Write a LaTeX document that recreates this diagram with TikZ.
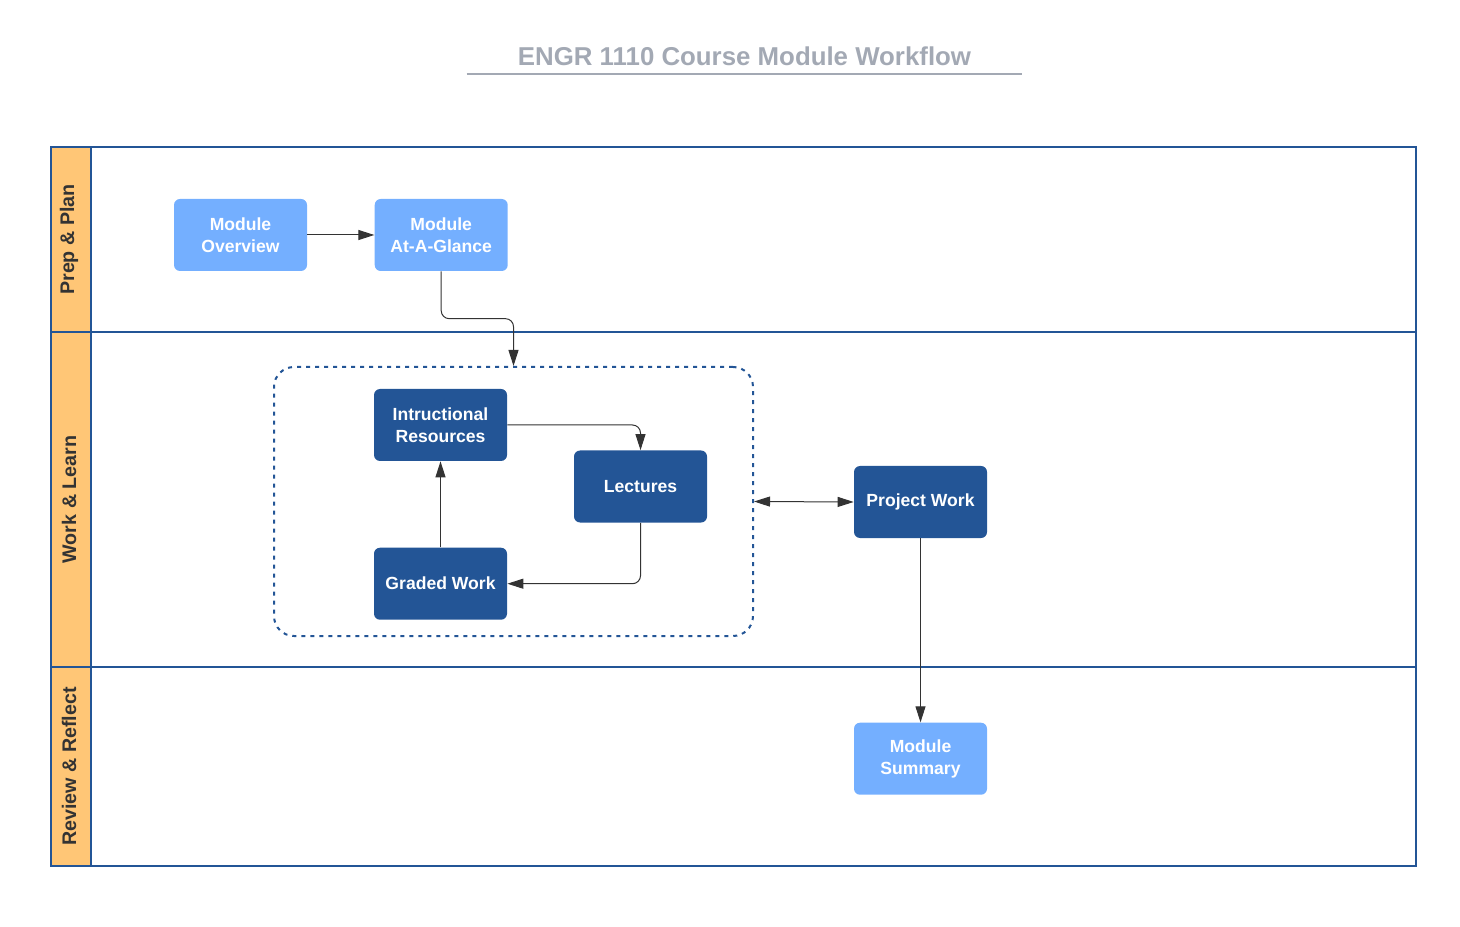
\documentclass[tikz,border=0pt]{standalone}
\usepackage{fontspec}
\setmainfont{Liberation Sans}
\usepackage{xcolor}
\usetikzlibrary{arrows.meta,positioning,calc}
\definecolor{lightbox}{RGB}{116,175,255}
\definecolor{darkbox}{RGB}{35,85,150}
\definecolor{lanehead}{RGB}{255,198,118}
\definecolor{titlegray}{RGB}{163,169,180}
\definecolor{edgegray}{RGB}{51,51,51}

\begin{document}
\begin{tikzpicture}[x=0.2mm,y=-0.2mm,
	>={Triangle[length=3.2mm,width=2mm]},
	box/.style={rectangle,rounded corners=1.2mm,minimum width=26.6mm,minimum height=14.4mm,inner sep=0pt,align=center,text=white,font=\fontsize{10}{12.5}\selectfont\bfseries},
	light/.style={box,fill=lightbox},
	dark/.style={box,fill=darkbox},
	flow/.style={draw=edgegray,line width=0.2mm,rounded corners=1.6mm},
	lane/.style={draw=darkbox,line width=0.4mm},
	lanelabel/.style={rotate=90,inner sep=0pt,text=edgegray,font=\fontsize{11.2}{13}\selectfont\bfseries},
	group/.style={draw=darkbox,line width=0.4mm,dash pattern=on 0.8mm off 1mm,rounded corners=4mm,minimum width=95.8mm,minimum height=53.8mm}]

	\useasboundingbox (0,0) rectangle (1460,927);

	\node[inner sep=0pt,minimum width=111mm,text=titlegray,font=\fontsize{14.7}{17}\selectfont\bfseries] (title) at (744.5,56) {ENGR 1110 Course Module Workflow};
	\draw[titlegray,line width=0.4mm] ([yshift=-1.6mm]title.south west) -- ([yshift=-1.6mm]title.south east);

	\fill[lanehead] (51,147) rectangle (91,866);
	\draw[lane] (51,147) rectangle (1416,866);
	\draw[lane] (91,147) -- (91,866);
	\draw[lane] (51,332) -- (1416,332);
	\draw[lane] (51,667) -- (1416,667);
	\node[lanelabel] (prep) at (69,239.5) {Prep \& Plan};
	\node[lanelabel] (work) at (69,499.5) {Work \& Learn};
	\node[lanelabel] (review) at (69,766.5) {Review \& Reflect};

	\node[light] (overview) at (240.5,235) {Module\\Overview};
	\node[light] (glance) [right=13.4mm of overview] {Module\\At-A-Glance};
	\node[group] (learn) at (513.5,501.5) {};
	\node[dark] (resources) at (440.5,425) {Intructional\\Resources};
	\node[dark] (graded) [below=17.2mm of resources] {Graded Work};
	\node[dark] (lectures) at (640.5,486.5) {Lectures};
	\node[dark] (project) at (920.5,502) {Project Work};
	\node[light] (summary) [below=36.8mm of project] {Module\\Summary};

	\draw[flow,->] (overview) -- (glance);
	\draw[flow,->] (glance.south) |- ($(glance.south)!.5!(learn.north)$) -| (learn.north);
	\draw[flow,->] (resources.east) -| (lectures.north);
	\draw[flow,->] (lectures.south) |- (graded.east);
	\draw[flow,->] (graded) -- (resources);
	\draw[flow,<->] (learn.east) -- (project.west);
	\draw[flow,->] (project) -- (summary);
\end{tikzpicture}
\end{document}
